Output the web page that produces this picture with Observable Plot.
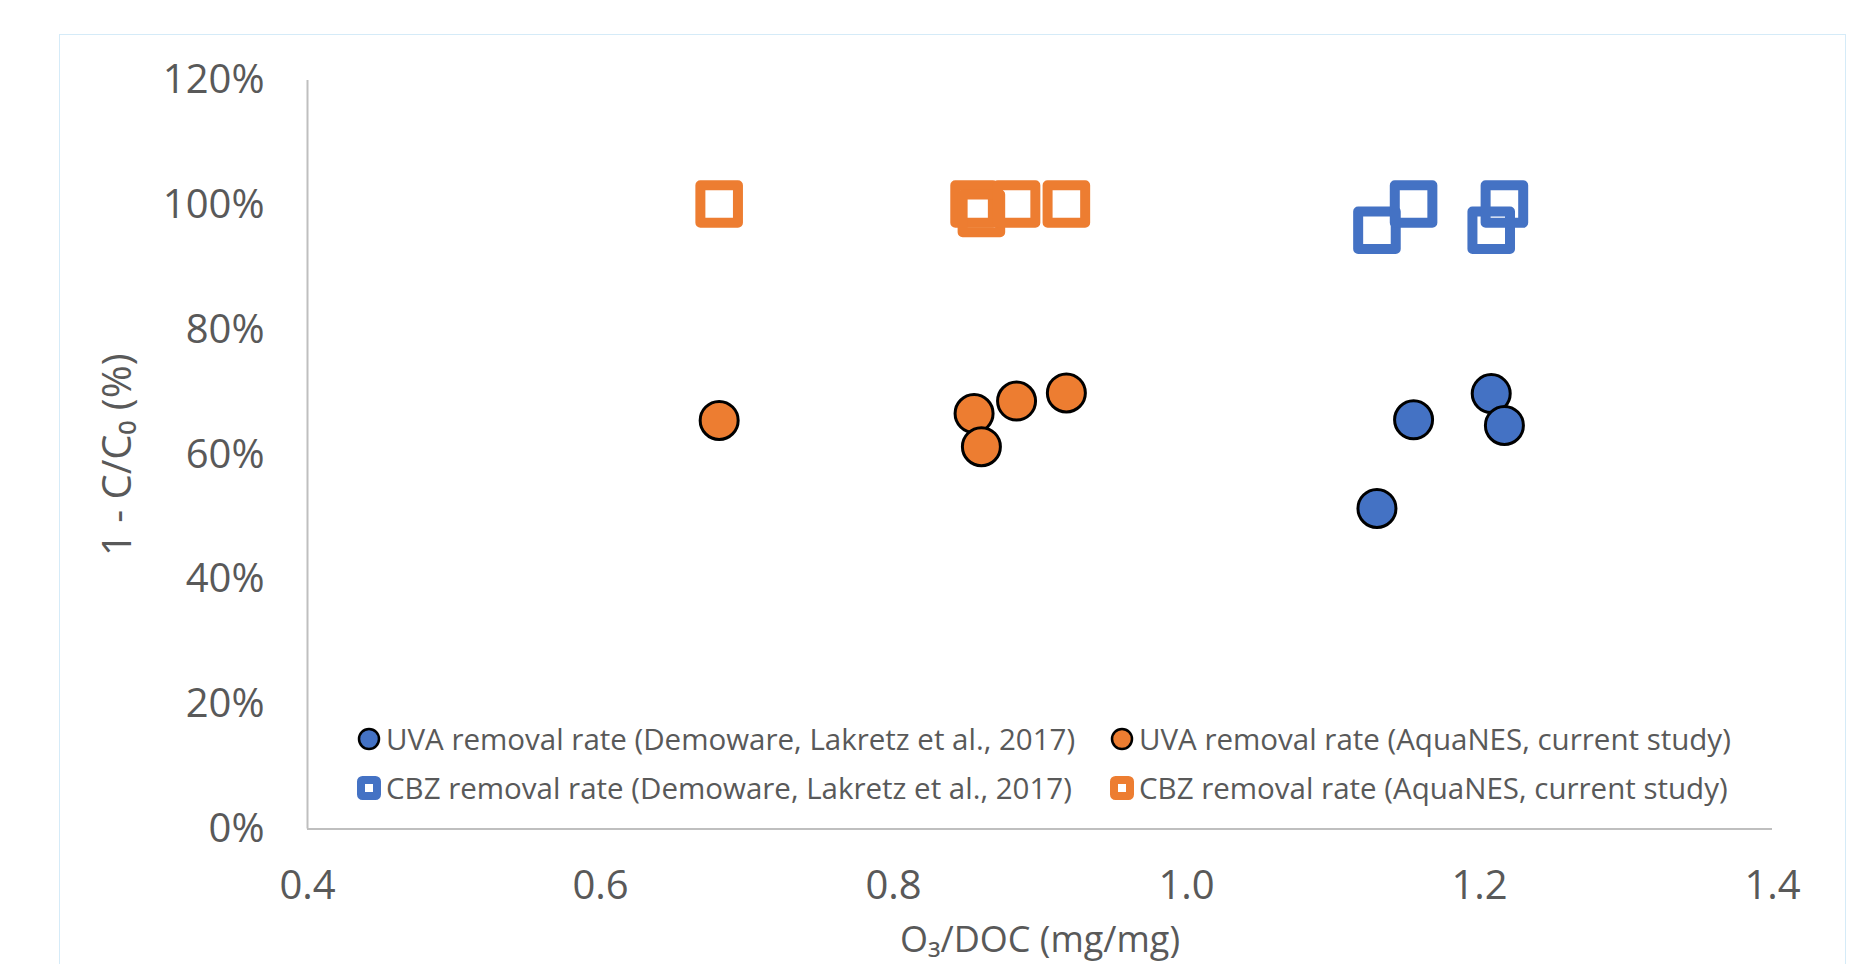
<!DOCTYPE html>
<html>
<head>
<meta charset="utf-8">
<script src="https://cdn.jsdelivr.net/npm/d3@7"></script>
<script src="https://cdn.jsdelivr.net/npm/@observablehq/plot@0.6"></script>
<style>
  html, body { margin: 0; padding: 0; background: #fff; overflow: hidden; }
  #wrap { position: relative; width: 1870px; height: 964px; font-family: "Open Sans", sans-serif; }
  #frame { position: absolute; left: 59px; top: 34px; width: 1787px; height: 1000px; border: 1.5px solid #d5ebf8; box-sizing: border-box; pointer-events: none; }
  #legend { position: absolute; left: 356px; top: 714px; color: #595959; font-size: 29.5px; line-height: 49px; }
  .row { display: flex; white-space: nowrap; }
  .item { display: flex; align-items: center; }
  .item svg { margin-right: 2px; flex: none; }
</style>
</head>
<body>
<div id="wrap">
  <div id="chart"></div>
  <div id="frame"></div>
  <div id="legend"></div>
</div>
<script>
// ---- data ----
const xTicks = [0.4, 0.6, 0.8, 1.0, 1.2, 1.4];
const yTicks = [0, 20, 40, 60, 80, 100, 120];

const uvaDemoX = [1.130, 1.155, 1.208, 1.217];
const uvaDemoY = [51.4, 65.6, 69.8, 64.7];
const uvaAquaX = [0.681, 0.855, 0.860, 0.884, 0.918];
const uvaAquaY = [65.5, 66.6, 61.3, 68.6, 69.9];
const cbzDemoX = [1.130, 1.155, 1.208, 1.217];
const cbzDemoY = [96.0, 100.2, 96.0, 100.2];
const cbzAquaX = [0.681, 0.855, 0.860, 0.884, 0.918];
const cbzAquaY = [100.2, 100.2, 98.7, 100.2, 100.2];

const seriesNames = [
  "UVA removal rate (Demoware, Lakretz et al., 2017)",
  "UVA removal rate (AquaNES, current study)",
  "CBZ removal rate (Demoware, Lakretz et al., 2017)",
  "CBZ removal rate (AquaNES, current study)"
];
const blue = "#4472C4", orange = "#ED7D31";

const toRows = (xs, ys) => xs.map((x, i) => ({x, y: ys[i]}));

const chart = Plot.plot({
  width: 1870,
  height: 964,
  marginLeft: 307,
  marginRight: 98,
  marginTop: 80,
  marginBottom: 135.5,
  style: {fontFamily: "Open Sans, sans-serif", color: "#595959", background: "transparent"},
  x: {domain: [0.4, 1.4], ticks: xTicks},
  y: {domain: [0, 120], ticks: yTicks},
  marks: [
    Plot.ruleX([0.4], {stroke: "#bfbfbf", strokeWidth: 2}),
    Plot.ruleY([0], {stroke: "#bfbfbf", strokeWidth: 2}),
    Plot.axisX({ticks: xTicks, tickSize: 0, tickPadding: 42, tickFormat: d3.format(".1f"), fontSize: 40, label: null, fill: "#595959"}),
    Plot.axisY({ticks: yTicks, tickSize: 0, tickPadding: 43, tickFormat: d => d + "%", fontSize: 40, label: null, fill: "#595959"}),
    Plot.text(["1 - C/C\u2080 (%)"], {frameAnchor: "left", dx: -189, rotate: -90, textAnchor: "middle", lineAnchor: "middle", fontSize: 40, fill: "#595959"}),
    Plot.text(["O\u2083/DOC (mg/mg)"], {frameAnchor: "bottom", dy: 123, textAnchor: "middle", lineAnchor: "bottom", fontSize: 36, fill: "#595959"}),
    Plot.dot(toRows(uvaDemoX, uvaDemoY), {x: "x", y: "y", r: 19, fill: blue, stroke: "#000", strokeWidth: 3}),
    Plot.dot(toRows(uvaAquaX, uvaAquaY), {x: "x", y: "y", r: 19, fill: orange, stroke: "#000", strokeWidth: 3}),
    Plot.dot(toRows(cbzDemoX, cbzDemoY), {x: "x", y: "y", r: 21.2, symbol: "square", fill: "none", stroke: blue, strokeWidth: 10, strokeLinejoin: "round"}),
    Plot.dot(toRows(cbzAquaX, cbzAquaY), {x: "x", y: "y", r: 21.2, symbol: "square", fill: "none", stroke: orange, strokeWidth: 10, strokeLinejoin: "round"})
  ]
});
document.getElementById("chart").appendChild(chart);

// ---- legend ----
const circleIcon = c => `<svg width="28" height="26"><circle cx="13" cy="13" r="10" fill="${c}" stroke="#000" stroke-width="2.5"/></svg>`;
const squareIcon = c => `<svg width="28" height="26"><rect x="5" y="5" width="16" height="16" rx="1.5" fill="#fff" stroke="${c}" stroke-width="8"/></svg>`;
const legendItems = [
  {name: seriesNames[0], icon: circleIcon(blue)},
  {name: seriesNames[1], icon: circleIcon(orange)},
  {name: seriesNames[2], icon: squareIcon(blue)},
  {name: seriesNames[3], icon: squareIcon(orange)}
];
const lg = document.getElementById("legend");
[[0, 1], [2, 3]].forEach(pair => {
  const row = document.createElement("div");
  row.className = "row";
  pair.forEach((k, j) => {
    const it = document.createElement("div");
    it.className = "item";
    it.style.width = j === 0 ? "753px" : "auto";
    it.innerHTML = legendItems[k].icon + `<span>${legendItems[k].name}</span>`;
    row.appendChild(it);
  });
  lg.appendChild(row);
});
</script>
</body>
</html>
